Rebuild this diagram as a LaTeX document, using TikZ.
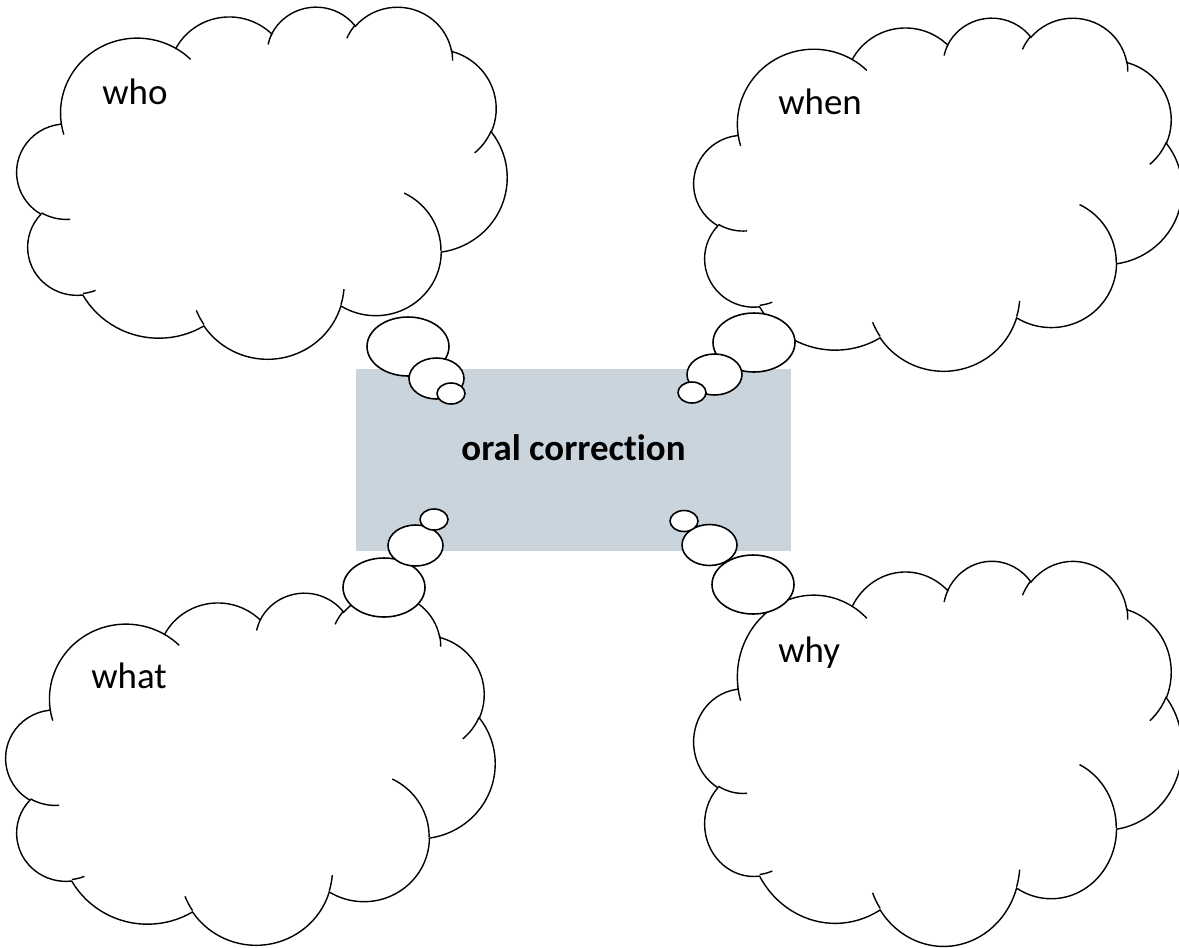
\documentclass[tikz,border=0pt]{standalone}
\usepackage{fontspec}
\setmainfont{Carlito}[Ligatures=NoCommon]
\usetikzlibrary{shapes.geometric}
\definecolor{topicgrey}{RGB}{201,212,220}

% arc of an ellipse given with visual angles (degrees)
\newcommand\oarccalc[4]{%
  \pgfmathsetmacro\oas{atan2(#1*sin(#3),#2*cos(#3))}%
  \pgfmathsetmacro\oae{atan2(#1*sin(#3+#4),#2*cos(#3+#4))}%
  \pgfmathsetmacro\oae{\oas+mod(\oae-\oas+720,360)}}
\newcommand\oarc[4]{[/utils/exec={\oarccalc{#1}{#2}{#3}{#4}}] arc[x radius=#1, y radius=#2, start angle=\oas, end angle=\oae]}

% cloud in the box x0,y0,width,height (px)
\newcommand\thoughtcloud[4]{%
  \begin{scope}[shift={(#1,#2)}, x=1cm, y=1cm, xscale=#3*0.02/43.2, yscale=-#4*0.02/43.2]
    \draw[cloudline, fill=white] (3.9,14.37)
      \oarc{6.753}{9.19}{-190.4875}{123.7805}
      \oarc{5.333}{7.267}{-144.1024}{89.9452}
      \oarc{4.365}{5.945}{-145.8079}{99.7230}
      \oarc{4.857}{6.595}{-130.9861}{117.2417}
      \oarc{5.333}{7.273}{-78.7089}{109.0269}
      \oarc{6.775}{9.22}{-46.2673}{130.2690}
      \oarc{5.785}{7.867}{0.6250}{114.0333}
      \oarc{6.752}{9.215}{22.4516}{115.1726}
      \oarc{7.72}{10.543}{66.2426}{75.7110}
      \oarc{4.36}{5.918}{-274.9421}{146.7356}
      \oarc{4.345}{5.945}{-246.8285}{152.5189} -- cycle;
    % inner lines
    \draw[cloudline]
      (4.693,26.177) \oarc{4.345}{5.945}{86.7420}{26.4295}
      (6.928,34.899) \oarc{4.36}{5.918}{73.6105}{11.4475}
      (16.478,39.09) \oarc{6.752}{9.215}{137.6242}{14.0811}
      (28.827,34.751) \oarc{6.752}{9.215}{6.4533}{15.9984}
      (34.129,22.954) \oarc{5.785}{7.867}{-70.2924}{70.9174}
      (41.798,15.354) \oarc{5.333}{7.273}{30.3180}{27.7515}
      (38.324,5.426) \oarc{4.857}{6.595}{-13.7443}{14.8589}
      (29.078,3.952) \oarc{4.857}{6.595}{-149.1815}{18.1954}
      (22.141,4.72) \oarc{4.365}{5.945}{-163.4943}{17.6864}
      (14,5.192) \oarc{6.753}{9.19}{-66.7070}{12.3194}
      (4.127,15.789) \oarc{6.753}{9.19}{157.6544}{11.8582};
  \end{scope}}

\begin{document}
\begin{tikzpicture}[x=0.02cm, y=-0.02cm,
  every node/.style={font=\fontsize{21}{25}\selectfont},
  cloudline/.style={line width=0.8pt},
  bubble/.style={ellipse,draw,fill=white,line width=0.9pt,inner sep=0pt},
  bubbleL/.style={bubble,minimum width=1.64cm,minimum height=1.18cm},
  bubbleM/.style={bubble,minimum width=1.1cm,minimum height=0.82cm},
  bubbleS/.style={bubble,minimum width=0.56cm,minimum height=0.42cm},
  word/.style={anchor=base west,inner sep=0pt}]
\useasboundingbox (0,0) rectangle (1179,947);
% clouds
\thoughtcloud{17}{6}{490}{352}
\thoughtcloud{694}{17}{488}{353}
\thoughtcloud{6}{592}{489}{352}
\thoughtcloud{694}{560}{488}{385}
\node[word] (who) at (102,104) {who};
\node[word] (when) at (778,114) {when};
\node[word] (what) at (91,688) {what};
\node[word] (why) at (778,662) {why};
% topic box
\node[fill=topicgrey,minimum width=8.7cm,minimum height=3.64cm,inner sep=0pt] (topic) at (573.5,460) {};
\node[anchor=base,inner sep=0pt,font=\fontsize{21}{25}\selectfont\bfseries] (topiclabel) at (topic.center) {oral correction};
% thought bubbles
\node[bubbleL] (whoL) at (408,346.5) {};
\node[bubbleM] (whoM) at (436.5,378.5) {};
\node[bubbleS] (whoS) at (451,393.5) {};
\node[bubbleL] (whenL) at (754,342.5) {};
\node[bubbleM] (whenM) at (714.5,374.5) {};
\node[bubbleS] (whenS) at (692,392.5) {};
\node[bubbleL] (whatL) at (384,587.5) {};
\node[bubbleM] (whatM) at (415.5,545.5) {};
\node[bubbleS] (whatS) at (434,519.5) {};
\node[bubbleL] (whyL) at (753,584.5) {};
\node[bubbleM] (whyM) at (709.5,545) {};
\node[bubbleS] (whyS) at (684,521) {};
\end{tikzpicture}
\end{document}
